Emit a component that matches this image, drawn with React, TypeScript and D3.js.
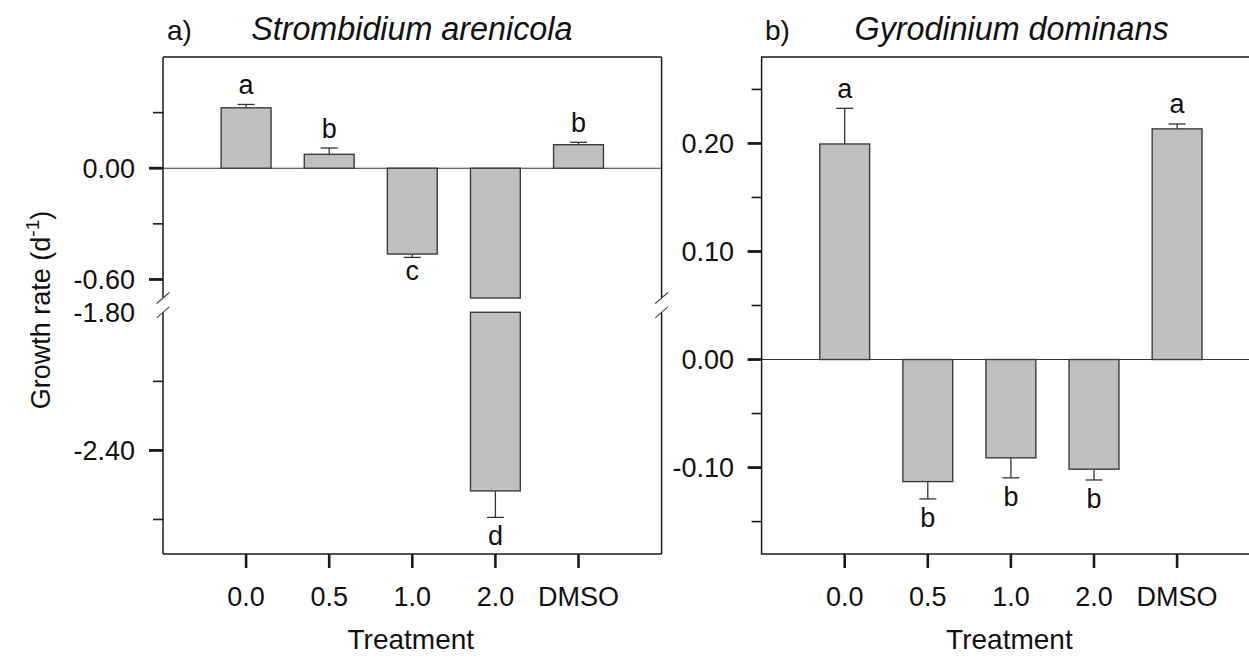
import React from "react";
import * as d3 from "d3";

// Treatment categories shared by both panels
const treatments = ["0.0", "0.5", "1.0", "2.0", "DMSO"];

// Panel a) Strombidium arenicola: mean growth rate, SE and group letters
const strombMean = [0.326, 0.075, -0.463, -2.576, 0.127];
const strombSE = [0.018, 0.034, 0.018, 0.115, 0.013];
const strombLetters = ["a", "b", "c", "d", "b"];

// Panel b) Gyrodinium dominans
const gyroMean = [0.1995, -0.113, -0.091, -0.1015, 0.2135];
const gyroSE = [0.033, 0.016, 0.0185, 0.010, 0.0045];
const gyroLetters = ["a", "b", "b", "b", "a"];

// Axis ticks
const strombUpperMajor = [0.0, -0.6];
const strombUpperMinor = [0.3, -0.3];
const strombLowerMajor = [-2.4];
const strombLowerMinor = [-2.1, -2.7];
const strombLowerLabels = [-1.8, -2.4];
const gyroMajor = [0.2, 0.1, 0.0, -0.1];
const gyroMinor = [0.25, 0.15, 0.05, -0.05, -0.15];

const W = 1249;
const H = 659;
const TOP = 57;
const BOTTOM = 554;
const PANEL_W = 498.6;
const FONT = "'Liberation Sans', Arial, Helvetica, sans-serif";
const FS = 27;
const BAR_FILL = "#c0c0c0";
const BAR_STROKE = "#3c3c3c";
const AXIS = "#1a1a1a";
const TEXT = "#111";
const BAR_FRAC = 0.6;
const CAP_W = 17;

// vertical extent of a glyph above its baseline (em)
const glyphTop = (ch: string) => (/[bdfhklt]/.test(ch) ? 0.72 : 0.53);

type Seg = { scale: d3.ScaleLinear<number, number>; lo: number; hi: number };

function BreakMark({ x, y }: { x: number; y: number }) {
  return (
    <line
      x1={x - 6.3}
      y1={y + 5.5}
      x2={x + 6.3}
      y2={y - 5.5}
      stroke="#444"
      strokeWidth={1.1}
    />
  );
}

function Letter({ x, y, ch, below }: { x: number; y: number; ch: string; below: boolean }) {
  const base = below ? y + 8.5 + glyphTop(ch) * FS : y - 10.5;
  return (
    <text x={x} y={base} textAnchor="middle" fontSize={FS} fontFamily={FONT} fill={TEXT}>
      {ch}
    </text>
  );
}

function YTickLabel({ x, y, v }: { x: number; y: number; v: number }) {
  return (
    <text
      x={x}
      y={y}
      dy="0.36em"
      textAnchor="end"
      fontSize={FS}
      fontFamily={FONT}
      fill={TEXT}
    >
      {d3.format(".2f")(v).replace("−", "-")}
    </text>
  );
}

function XAxis({ x, x0 }: { x: d3.ScaleLinear<number, number>; x0: number }) {
  return (
    <g>
      {treatments.map((t, i) => (
        <g key={t}>
          <line x1={x(i + 1)} x2={x(i + 1)} y1={BOTTOM} y2={BOTTOM + 14} stroke={AXIS} strokeWidth={2.6} />
          <text
            x={x(i + 1)}
            y={605.5}
            textAnchor="middle"
            fontSize={FS}
            fontFamily={FONT}
            fill={TEXT}
          >
            {t}
          </text>
        </g>
      ))}
      <text
        x={x0 + PANEL_W / 2 - 1.5}
        y={649}
        textAnchor="middle"
        fontSize={28}
        fontFamily={FONT}
        fill={TEXT}
      >
        Treatment
      </text>
    </g>
  );
}

function MajorTick({ x, y }: { x: number; y: number }) {
  return <line x1={x - 14} x2={x} y1={y} y2={y} stroke={AXIS} strokeWidth={2.8} />;
}
function MinorTick({ x, y }: { x: number; y: number }) {
  return <line x1={x - 10} x2={x} y1={y} y2={y} stroke={AXIS} strokeWidth={1.6} />;
}

function Bars({
  x,
  means,
  ses,
  letters,
  segs,
}: {
  x: d3.ScaleLinear<number, number>;
  means: number[];
  ses: number[];
  letters: string[];
  segs: Seg[];
}) {
  const bw = (x(1) - x(0)) * BAR_FRAC;
  const segOf = (v: number) => segs.find((s) => v >= s.lo - 1e-9 && v <= s.hi + 1e-9) ?? segs[segs.length - 1];
  return (
    <g>
      {means.map((m, i) => {
        const cx = x(i + 1);
        const rects: JSX.Element[] = [];
        // bar pieces, one per axis segment the bar passes through
        segs.forEach((s, k) => {
          const a = Math.max(Math.min(0, m), s.lo);
          const b = Math.min(Math.max(0, m), s.hi);
          if (b > a) {
            const y1 = s.scale(b);
            const y2 = s.scale(a);
            rects.push(
              <rect
                key={k}
                x={cx - bw / 2}
                y={y1}
                width={bw}
                height={y2 - y1}
                fill={BAR_FILL}
                stroke={BAR_STROKE}
                strokeWidth={1.4}
              />
            );
          }
        });
        const end = m >= 0 ? m + ses[i] : m - ses[i];
        const s = segOf(m);
        const yBar = s.scale(m);
        const yEnd = s.scale(end);
        return (
          <g key={i}>
            <line x1={cx} x2={cx} y1={yBar} y2={yEnd} stroke="#333" strokeWidth={1.3} />
            <line x1={cx - CAP_W / 2} x2={cx + CAP_W / 2} y1={yEnd} y2={yEnd} stroke="#333" strokeWidth={1.3} />
            {rects}
            <Letter x={cx} y={yEnd} ch={letters[i]} below={m < 0} />
          </g>
        );
      })}
    </g>
  );
}

function PanelA() {
  const x0 = 163;
  const x = d3.scaleLinear().domain([0, 6]).range([x0, x0 + PANEL_W]);
  const brkTop = 298;
  const brkBot = 312.3;
  const yUp = d3.scaleLinear().domain([-0.7, 0.6]).range([brkTop, TOP]);
  const yLo = d3.scaleLinear().domain([-2.85, -1.8]).range([BOTTOM, brkBot]);
  const segs: Seg[] = [
    { scale: yUp, lo: -0.7, hi: 0.6 },
    { scale: yLo, lo: -2.85, hi: -1.8 },
  ];
  const xR = x0 + PANEL_W;
  return (
    <g>
      {/* zero line */}
      <line x1={x0} x2={xR} y1={yUp(0)} y2={yUp(0)} stroke="#333" strokeWidth={1.2} />
      <Bars x={x} means={strombMean} ses={strombSE} letters={strombLetters} segs={segs} />
      {/* frame with broken side edges */}
      <g stroke={AXIS} strokeWidth={1.5} fill="none">
        <line x1={x0} x2={xR} y1={TOP} y2={TOP} />
        <line x1={x0} x2={xR} y1={BOTTOM} y2={BOTTOM} />
        <line x1={x0} x2={x0} y1={TOP} y2={brkTop} />
        <line x1={x0} x2={x0} y1={brkBot} y2={BOTTOM} />
        <line x1={xR} x2={xR} y1={TOP} y2={brkTop} />
        <line x1={xR} x2={xR} y1={brkBot} y2={BOTTOM} />
      </g>
      <BreakMark x={x0} y={brkTop} />
      <BreakMark x={x0} y={brkBot} />
      <BreakMark x={xR} y={brkTop} />
      <BreakMark x={xR} y={brkBot} />
      {strombUpperMajor.map((v) => (
        <g key={"um" + v}>
          <MajorTick x={x0} y={yUp(v)} />
          <YTickLabel x={x0 - 28} y={yUp(v)} v={v} />
        </g>
      ))}
      {strombUpperMinor.map((v) => (
        <MinorTick key={"un" + v} x={x0} y={yUp(v)} />
      ))}
      {strombLowerMajor.map((v) => (
        <MajorTick key={"lm" + v} x={x0} y={yLo(v)} />
      ))}
      {strombLowerMinor.map((v) => (
        <MinorTick key={"ln" + v} x={x0} y={yLo(v)} />
      ))}
      {strombLowerLabels.map((v) => (
        <YTickLabel key={"ll" + v} x={x0 - 28} y={yLo(v)} v={v} />
      ))}
      <XAxis x={x} x0={x0} />
      <text x={167} y={39.5} fontSize={28} fontFamily={FONT} fill={TEXT}>
        a)
      </text>
      <text
        x={x0 + PANEL_W / 2 - 0.5}
        y={39.5}
        textAnchor="middle"
        fontSize={32.3}
        fontStyle="italic"
        fontFamily={FONT}
        fill={TEXT}
      >
        Strombidium arenicola
      </text>
      <text
        transform="translate(50,310) rotate(-90)"
        textAnchor="middle"
        fontSize={FS}
        fontFamily={FONT}
        fill={TEXT}
      >
        Growth rate (d
        <tspan fontSize={19} dy={-11}>
          -1
        </tspan>
        <tspan dy={11}>)</tspan>
      </text>
    </g>
  );
}

function PanelB() {
  const x0 = 761.6;
  const x = d3.scaleLinear().domain([0, 6]).range([x0, x0 + PANEL_W]);
  const y = d3.scaleLinear().domain([-0.18, 0.28]).range([BOTTOM, TOP]);
  const segs: Seg[] = [{ scale: y, lo: -0.18, hi: 0.28 }];
  const xR = x0 + PANEL_W;
  return (
    <g>
      <line x1={x0} x2={xR} y1={y(0)} y2={y(0)} stroke="#333" strokeWidth={1.2} />
      <Bars x={x} means={gyroMean} ses={gyroSE} letters={gyroLetters} segs={segs} />
      <rect x={x0} y={TOP} width={PANEL_W} height={BOTTOM - TOP} fill="none" stroke={AXIS} strokeWidth={1.5} />
      {gyroMajor.map((v) => (
        <g key={"m" + v}>
          <MajorTick x={x0} y={y(v)} />
          <YTickLabel x={x0 - 27.5} y={y(v)} v={v} />
        </g>
      ))}
      {gyroMinor.map((v) => (
        <MinorTick key={"n" + v} x={x0} y={y(v)} />
      ))}
      <XAxis x={x} x0={x0} />
      <text x={765} y={39.5} fontSize={28} fontFamily={FONT} fill={TEXT}>
        b)
      </text>
      <text
        x={x0 + 250}
        y={39.5}
        textAnchor="middle"
        fontSize={32.3}
        fontStyle="italic"
        fontFamily={FONT}
        fill={TEXT}
      >
        Gyrodinium dominans
      </text>
    </g>
  );
}

export default function App() {
  return (
    <div style={{ position: "absolute", left: 0, top: 0, width: W, height: H, background: "#fff" }}>
      <svg width={W} height={H} viewBox={`0 0 ${W} ${H}`} style={{ display: "block" }}>
        <rect width={W} height={H} fill="#fff" />
        <PanelA />
        <PanelB />
      </svg>
    </div>
  );
}
